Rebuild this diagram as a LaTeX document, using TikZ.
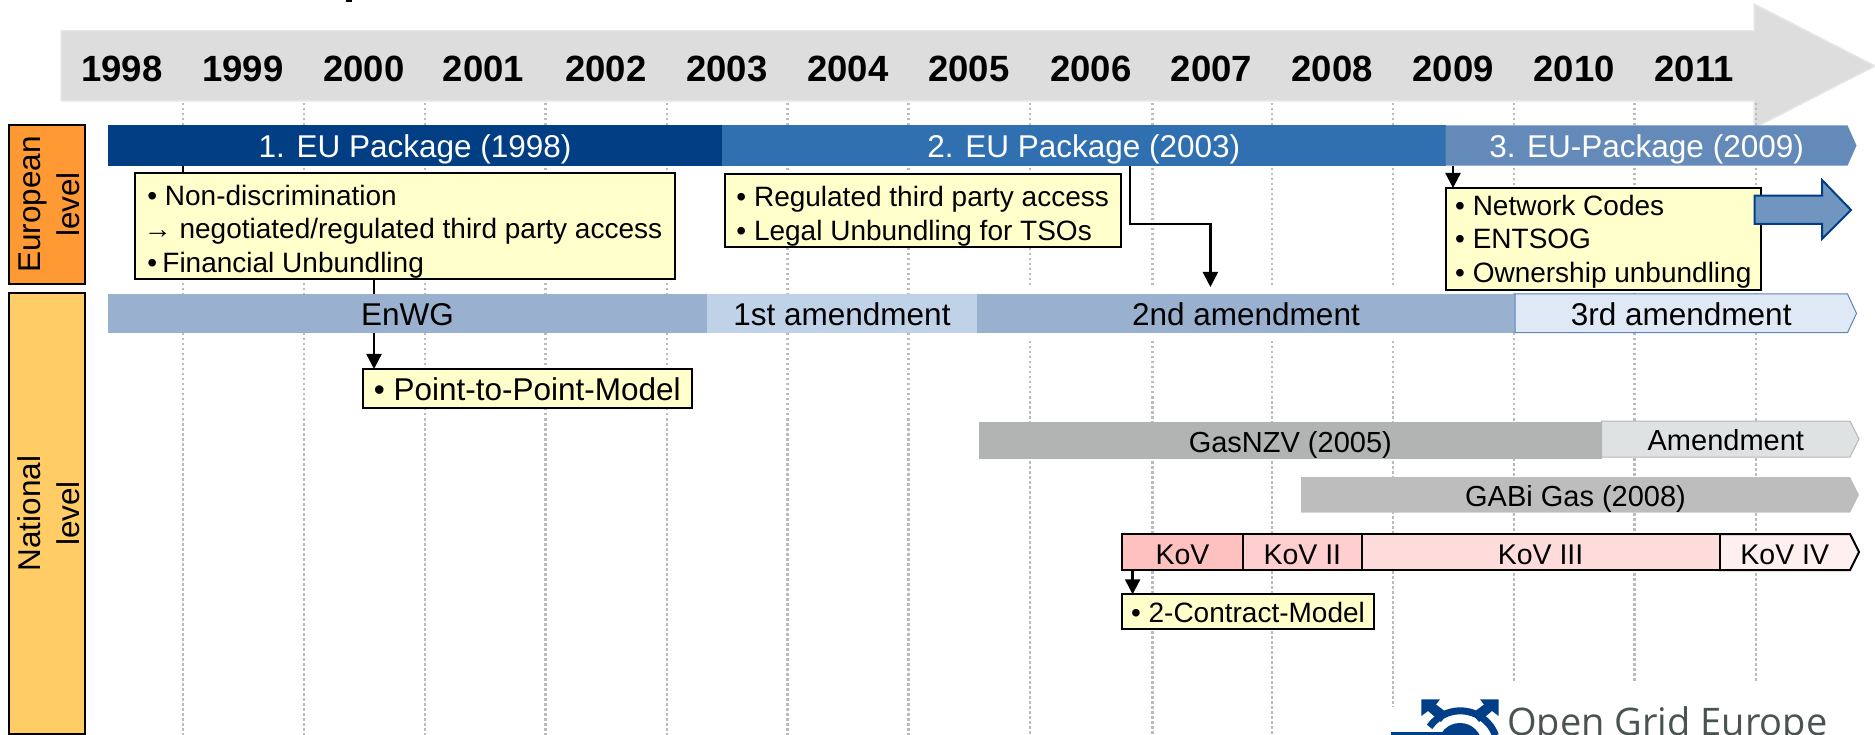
\documentclass[tikz,border=0pt]{standalone}
\usepackage{fontspec}
\setmainfont{Liberation Sans}
\newfontfamily\logofont{Open Sans}
\usetikzlibrary{arrows.meta}
\definecolor{banner}{HTML}{DDDDDD}
\definecolor{bannerEdge}{HTML}{E6E6E6}
\definecolor{pkgA}{HTML}{023E84}
\definecolor{pkgB}{HTML}{3070B0}
\definecolor{pkgC}{HTML}{648ABA}
\definecolor{lawA}{HTML}{9AB0CF}
\definecolor{lawB}{HTML}{C0D2E8}
\definecolor{lawC}{HTML}{DFE8F5}
\definecolor{lawEdge}{HTML}{5F84B5}
\definecolor{gasA}{HTML}{B2B4B4}
\definecolor{gasB}{HTML}{DFE2E3}
\definecolor{gasEdge}{HTML}{B5B8B8}
\definecolor{gabi}{HTML}{BDBDBD}
\definecolor{kovA}{HTML}{FFC0C0}
\definecolor{kovB}{HTML}{FFCFCF}
\definecolor{kovC}{HTML}{FFDCDC}
\definecolor{kovD}{HTML}{FFF0F0}
\definecolor{note}{HTML}{FFFFCC}
\definecolor{logoblue}{HTML}{003F87}
\definecolor{logogray}{HTML}{4A5252}
\definecolor{blockfill}{HTML}{7096C0}
\definecolor{gridc}{HTML}{BBBBBB}
\definecolor{euroC}{HTML}{FF9933}
\definecolor{natC}{HTML}{FFCC66}
\newcommand{\rbar}[7]{%
  \pgfmathsetmacro\bw{#4-#2}\pgfmathsetmacro\bh{#5-#3}%
  \node[#6,minimum width=\bw pt,minimum height=\bh pt] (#1) at ({(#2+#4)/2},{(#3+#5)/2}) {#7};}
\newcommand{\tbar}[8]{%
  \draw[#6] (#2,#3) -- (#4,#3) -- ({#4+9},{(#3+#5)/2}) -- (#4,#5) -- (#2,#5) -- cycle;
  \rbar{#1}{#2}{#3}{#4}{#5}{#7}{#8}}
\tikzset{
  barbox/.style={rectangle,inner sep=0pt,outer sep=0pt},
  pkglbl/.style={barbox,text=white,font=\fontsize{31.5}{37}\selectfont,text height=24.5pt,text depth=0pt},
  lawlbl/.style={barbox,text=black,font=\fontsize{31.5}{37}\selectfont,text height=24.5pt,text depth=0pt},
  gaslbl/.style={barbox,text=black,font=\fontsize{29}{34}\selectfont,text height=23.8pt,text depth=0pt},
  kovlbl/.style={barbox,draw=black,line width=2pt,font=\fontsize{28.5}{34}\selectfont,text height=25.4pt,text depth=0pt},
  year/.style={inner sep=0pt,font=\fontsize{36.5}{40}\bfseries\selectfont,text height=27.8pt,text depth=0pt},
  levelbox/.style={rectangle,draw=black,line width=2pt,inner sep=0pt,outer sep=0pt,rotate=90,align=center,text height=65.6pt,text depth=0pt,font=\fontsize{31.5}{39}\selectfont},
  notebox/.style={rectangle,draw=black,line width=2pt,fill=note,inner ysep=0pt,outer sep=0pt,align=left},
  gridline/.style={gridc,line width=2.5pt,dash pattern=on 2.5pt off 2.5pt},
  conn/.style={black,line width=2.3pt},
  arr/.style={conn,-{Triangle[length=15pt,width=15pt]}},
}
\begin{document}
\begin{tikzpicture}[x=1pt,y=-1pt]
\useasboundingbox (0,0) rectangle (1875,735);
% title fragment
\fill[black] (346,0) rectangle (352,2);
% banner
\filldraw[fill=banner,draw=bannerEdge,line width=1.5pt] (61,31) -- (1754,31) -- (1754,4) -- (1875,66) -- (1754,128) -- (1754,101) -- (61,101) -- cycle;
% grid
\foreach \gx/\gy in {183/735,304/735,425/735,545.5/735,667/735,787.5/735,908.5/735}
  \draw[gridline] (\gx,103) -- (\gx,\gy);
\foreach \gx/\gy in {1030/735,1152.7/735,1272/735,1393/707}{
  \draw[gridline] (\gx,103) -- (\gx,287);
  \draw[gridline] (\gx,341) -- (\gx,\gy);}
\foreach \gx in {1514,1634.5,1756}
  \draw[gridline] (\gx,103) -- (\gx,682);
% years
\foreach \yx/\yy in {122/1998,243/1999,364/2000,483.5/2001,606/2002,727/2003,848/2004,969/2005,1091/2006,1211.5/2007,1332/2008,1453/2009,1574/2010,1694/2011}
  \node[year] (y\yy) at (\yx,68) {\yy};
% level boxes
\node[levelbox,fill=euroC,minimum width=159pt,minimum height=76pt] (euro) at (47,204.5) {European\\level};
\node[levelbox,fill=natC,minimum width=441pt,minimum height=76pt] (nat) at (47,513.5) {National\\level};
% EU packages
\rbar{p1}{108}{125.3}{722}{165.7}{pkglbl,fill=pkgA}{1. EU Package (1998)}
\rbar{p2}{722}{125.3}{1445.6}{165.7}{pkglbl,fill=pkgB}{2. EU Package (2003)}
\tbar{p3}{1445.6}{125.3}{1847.5}{165.7}{fill=pkgC,draw=none}{pkglbl}{3. EU-Package (2009)}
% national law
\rbar{enwg}{108}{294}{707}{332.7}{lawlbl,fill=lawA}{EnWG}
\rbar{am1}{707}{294}{977}{332.7}{lawlbl,fill=lawB}{1st amendment}
\rbar{am2}{977}{294}{1515}{332.7}{lawlbl,fill=lawA}{2nd amendment}
\tbar{am3}{1515}{294}{1847.5}{332.7}{fill=lawC,draw=lawEdge,line width=1pt}{lawlbl}{3rd amendment}
% notes
\node[notebox,anchor=north west,inner xsep=8pt,minimum width=539.5pt,minimum height=106.3pt,text height=93.3pt,text depth=0pt,font=\fontsize{28}{33.6}\selectfont] (box1) at (135,172.7)
  {• Non-discrimination\\\hspace*{-3.5pt}→ negotiated/regulated third party access\\• \hspace*{-2.5pt}Financial Unbundling};
\node[notebox,anchor=north west,inner xsep=9pt,minimum width=396pt,minimum height=73pt,text height=59.6pt,text depth=0pt,font=\fontsize{28}{34}\selectfont] (box2) at (724.7,174)
  {• Regulated third party access\\• Legal Unbundling for TSOs};
\node[notebox,anchor=north west,inner xsep=8pt,minimum width=315.4pt,minimum height=102pt,text height=87.4pt,text depth=0pt,font=\fontsize{28}{33.8}\selectfont] (box3) at (1445.6,188)
  {• Network Codes\\• ENTSOG\\• Ownership unbundling};
\node[notebox,anchor=north west,inner xsep=8pt,minimum width=329.5pt,minimum height=38.7pt,text height=23.3pt,text depth=0pt,font=\fontsize{31.5}{37}\selectfont] (ptp) at (362.5,369)
  {• Point-to-Point-Model};
\node[notebox,anchor=north west,inner xsep=7pt,minimum width=252pt,minimum height=34.7pt,text height=21.7pt,text depth=0pt,font=\fontsize{28}{33}\selectfont] (contract) at (1122,594.3)
  {• 2-Contract-Model};
% block arrow
\draw[fill=blockfill,draw=logoblue,line width=2pt] (1754.7,195.7) -- (1822,195.7) -- (1822,180) -- (1851,210) -- (1822,239) -- (1822,224) -- (1754.7,224) -- cycle;
% gas
\rbar{gasnzv}{979}{422}{1601.6}{458.7}{gaslbl,fill=gasA}{GasNZV (2005)}
\tbar{gasam}{1601.6}{421}{1850}{457}{fill=gasB,draw=gasEdge,line width=1pt}{gaslbl}{Amendment}
\tbar{gabis}{1301}{477}{1850}{512.7}{fill=gabi,draw=none}{gaslbl}{GABi Gas (2008)}
% KoV
\tbar{kov4}{1719.5}{534}{1850}{570}{fill=kovD,draw=black,line width=2pt}{kovlbl,draw=none}{KoV IV}
\rbar{kov1}{1122}{534}{1243}{570}{kovlbl,fill=kovA}{KoV}
\rbar{kov2}{1243}{534}{1361.6}{570}{kovlbl,fill=kovB}{KoV II}
\rbar{kov3}{1361.6}{534}{1719.5}{570}{kovlbl,fill=kovC}{KoV III}
% connectors
\coordinate (cA) at (183,0);
\coordinate (cB) at (374,0);
\coordinate (kinkA) at (1130,224);
\coordinate (kinkB) at (1210.4,224);
\coordinate (cC) at (1453,0);
\coordinate (cD) at (1132.6,0);
\draw[conn] (p1.south -| cA) -- (box1.north -| cA);
\draw[conn] (box1.south -| cB) -- (enwg.north -| cB);
\draw[arr] (enwg.south -| cB) -- (ptp.north -| cB);
\draw[arr,shorten >=7pt] (p2.south -| kinkA) -- (kinkA) -- (kinkB) -- (am2.north -| kinkB);
\draw[arr] (p3.south -| cC) -- (box3.north -| cC);
\draw[arr] (kov1.south -| cD) -- (contract.north -| cD);
% logo
\fill[logoblue] (1421.3,699.3) -- (1440,699.3) -- (1436,704.5) -- (1448,713.5) -- (1441,722) -- (1428,711) -- (1421.3,716) -- cycle;
\fill[logoblue] (1498.7,699.3) -- (1480,699.3) -- (1484,704.5) -- (1472,713.5) -- (1479,722) -- (1492,711) -- (1498.7,716) -- cycle;
\draw[logoblue,line width=7pt] (1495.5,735.5) arc[start angle=20,end angle=145,radius=37.5pt];
\fill[logoblue] (1460,745) circle[radius=22pt];
\fill[logoblue] (1391,731.7) rectangle (1450,740);
\node[anchor=base west,inner sep=0pt,text=logogray,font=\logofont\fontsize{38}{44}\selectfont] (ogelogo) at (1507,735.5) {Open Grid Europe};
\end{tikzpicture}
\end{document}
